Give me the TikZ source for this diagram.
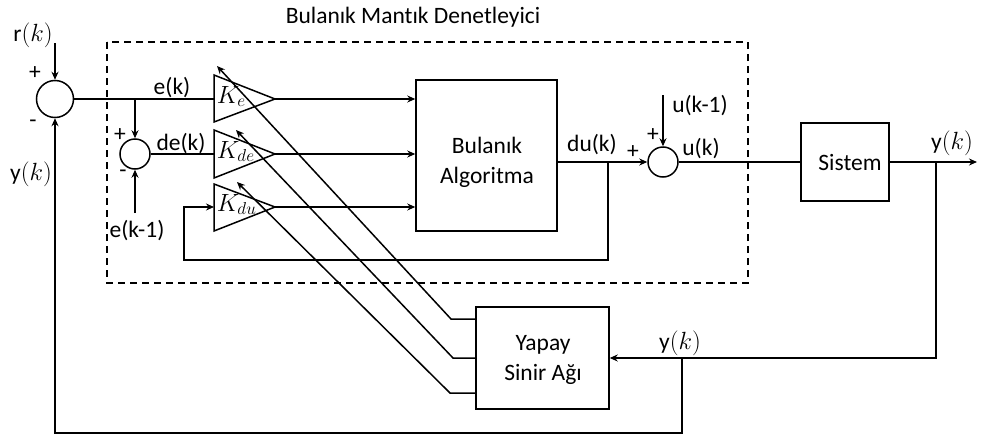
\documentclass[tikz,border=0pt]{standalone}
\usepackage{fontspec}
\setmainfont[Ligatures=NoCommon]{Carlito}
\usetikzlibrary{arrows.meta,calc}

\begin{document}
\begin{tikzpicture}[x=1pt,y=-1pt,line width=1.5pt,
  >={Stealth[length=8pt,width=7pt]},
  lbl/.style={font=\fontsize{23.5}{27}\selectfont, inner sep=0pt},
  gain/.style={font=\fontsize{27}{30}\selectfont, inner sep=0pt, anchor=base west},
  blk/.style={draw, line width=1.5pt, inner sep=0pt},
  blktxt/.style={align=center, inner sep=0pt, font=\fontsize{23.5}{30}\selectfont},
  sumc/.style={circle, draw, line width=1.5pt, inner sep=0pt},
  grp/.style={draw, line width=1.4pt, dash pattern=on 7pt off 5pt}]
\useasboundingbox (0,0) rectangle (981,439);

% controller boundary and its title
\draw[grp] (107,42) rectangle (748,283);
\node[lbl] (title) at (413,17) {Bulanık Mantık Denetleyici};

% summing junctions
\node[sumc, minimum size=37pt] (s1) at (55,99) {};
\node[sumc, minimum size=30pt] (s2) at (135,154) {};
\node[sumc, minimum size=30pt] (s3) at (663,162) {};

% blocks
\node[blk, minimum width=141pt, minimum height=151pt] (fa) at (486.5,155.5) {};
\node[blktxt] (fatxt) at (487,162) {Bulanık\\Algoritma};
\node[blk, minimum width=88pt, minimum height=78pt] (sys) at (845,162) {};
\node[blktxt] (systxt) at (850,162) {Sistem};
\node[blk, minimum width=133pt, minimum height=102pt] (ann) at (542.5,358) {};
\node[blktxt] (anntxt) at (543,360) {Yapay\\Sinir Ağı};

% gain triangles
\draw (214,75) -- (275,99) -- (214,122) -- cycle;
\draw (214,130) -- (275,154) -- (214,178) -- cycle;
\draw (214,184) -- (275,207) -- (214,231) -- cycle;
\coordinate (keI) at (214,99);   \coordinate (keO) at (275,99);
\coordinate (kdeI) at (214,154); \coordinate (kdeO) at (275,154);
\coordinate (kduI) at (214,207); \coordinate (kduO) at (275,207);
\node[gain] (ke) at (216,103) {$K_e$};
\node[gain] (kde) at (216,158) {$K_{de}$};
\node[gain] (kdu) at (216,211) {$K_{du}$};

% signal sources and branch points
\coordinate (rin) at (55,43);
\coordinate (ebr) at (135,99);
\coordinate (eold) at (135,213);
\coordinate (dub) at (608,162);
\coordinate (fbL) at (184,260);
\coordinate (uold) at (663,95);
\coordinate (yout) at (977,162);
\coordinate (ybr) at (936,162);
\coordinate (ybr2) at (682,358);
\coordinate (fbB) at (55,433);
\coordinate (n1) at (451,319);
\coordinate (n2) at (453,358);
\coordinate (n3) at (450,393);
\coordinate (t1) at (217,66);
\coordinate (t2) at (236,130);
\coordinate (t3) at (237,182);

% connectors
\draw[->] (rin) -- (s1.north);
\draw (s1.east) -- (keI);
\draw[->] (ebr) -- (s2.north);
\draw[->] (eold) -- (s2.south);
\draw (s2.east) -- (kdeI);
\draw[->] (keO) -- (fa.west |- keO);
\draw[->] (kdeO) -- (fa.west |- kdeO);
\draw[->] (kduO) -- (fa.west |- kduO);
\draw[->] (fa.east |- s3) -- (s3.west);
\draw[->] (dub) |- (fbL) |- (kduI);
\draw[->] (uold) -- (s3.north);
\draw (s3.east) -- (sys.west |- s3);
\draw[->] (sys.east) -- (yout);
\draw[->] (ybr) |- (ann.east);
\draw[->] (ybr2) |- (fbB) -- (s1.south);
\draw[->] (ann.west |- n1) -- (n1) -- (t1);
\draw[->] (ann.west |- n2) -- (n2) -- (t2);
\draw[->] (ann.west |- n3) -- (n3) -- (t3);

% signal labels
\node[lbl] (lr) at (33,35) {r$(k)$};
\node[lbl] (p1) at (35,73) {+};
\node[lbl] (m1) at (33,124) {-};
\node[lbl] (ly1) at (31,174) {y$(k)$};
\node[lbl] (le) at (172,88) {e(k)};
\node[lbl] (p2) at (120,135) {+};
\node[lbl] (m2) at (123,174) {-};
\node[lbl] (lde) at (181,144) {de(k)};
\node[lbl] (leo) at (137,231) {e(k-1)};
\node[lbl] (ldu) at (592,145) {du(k)};
\node[lbl] (p3) at (633,152) {+};
\node[lbl] (p4) at (653,135) {+};
\node[lbl] (luo) at (700,106) {u(k-1)};
\node[lbl] (lu) at (701,149) {u(k)};
\node[lbl] (ly2) at (952,143) {y$(k)$};
\node[lbl] (ly3) at (680,343) {y$(k)$};
\end{tikzpicture}
\end{document}
